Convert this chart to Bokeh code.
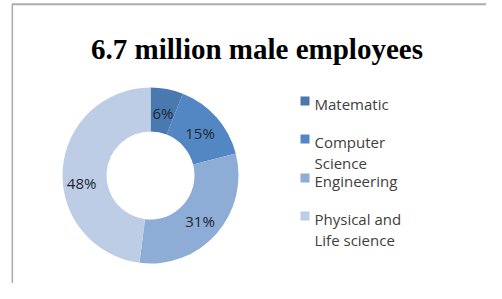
import math
from bokeh.plotting import figure
from bokeh.models import Range1d, ColumnDataSource
from bokeh.core.properties import value
from bokeh.embed import file_html
from bokeh.resources import INLINE

# ---- data ----
title_text = "6.7 million male employees"
categories = ["Matematic", "Computer Science", "Engineering", "Physical and Life science"]
legend_lines = [["Matematic"], ["Computer", "Science"], ["Engineering"], ["Physical and", "Life science"]]
shares = [6, 15, 31, 48]
colors = ["#4A79AF", "#5287C3", "#8DACD6", "#BDCDE5"]

W, H = 486, 283
p = figure(width=W, height=H, output_backend="svg", toolbar_location=None,
           x_range=Range1d(0, W), y_range=Range1d(0, H), min_border=0,
           background_fill_color="white", border_fill_color="white")
p.axis.visible = False
p.grid.visible = False
p.outline_line_color = None

def px(x):
    return x

def py(y):
    return H - y

# frame lines (top and left)
p.line([px(11.5), W], [py(3.8), py(3.8)], line_color="#ABABAB", line_width=2)
p.line([px(11.8), px(11.8)], [py(3.8), 0], line_color="#ABABAB", line_width=1.5)

# title
p.text([px(256.5)], [py(48)], text=[title_text], text_font=value("Liberation Serif"),
       text_font_style="bold", text_font_size="29px", text_color="#000000",
       text_align="center", text_baseline="middle")

# donut
cx, cy = px(150), py(175)
r_out, r_in = 88, 44
total = float(sum(shares))
starts, ends, cum = [], [], 0.0
for s in shares:
    starts.append(math.pi / 2 - 2 * math.pi * cum / total)
    cum += s
    ends.append(math.pi / 2 - 2 * math.pi * cum / total)
src = ColumnDataSource(dict(x=[cx] * 4, y=[cy] * 4, start=starts, end=ends, color=colors))
p.annular_wedge(x="x", y="y", inner_radius=r_in, outer_radius=r_out, inner_radius_units="screen",
                outer_radius_units="screen", start_angle="start", end_angle="end",
                direction="clock", fill_color="color", line_color=None, source=src)

# labels
label_offsets = [(0, -2), (0, -1), (0, -2), (-3, -12)]
lx, ly, lt = [], [], []
r_mid = (r_out + r_in) / 2
for s, a0, a1, (dx, dy) in zip(shares, starts, ends, label_offsets):
    am = (a0 + a1) / 2
    lx.append(cx + r_mid * math.cos(am) + dx)
    ly.append(cy + r_mid * math.sin(am) + dy)
    lt.append(f"{s}%")
p.text(lx, ly, text=lt, text_font=value("Open Sans"), text_font_size="15px",
       text_color="#1E2733", text_align="center", text_baseline="middle")

# legend
item_y = [103, 141, 180, 218]
line_gap = 21
sq_x, sq_y, tx, ty, tt = [], [], [], [], []
for lines, yy, c in zip(legend_lines, item_y, colors):
    sq_x.append(px(304.5))
    sq_y.append(py(yy - 2.5))
    for k, t in enumerate(lines):
        tx.append(px(314))
        ty.append(py(yy + k * line_gap))
        tt.append(t)
p.rect(sq_x, sq_y, width=9, height=9, width_units="screen", height_units="screen",
       fill_color=colors, line_color=None)
p.text(tx, ty, text=tt, text_font=value("Open Sans"), text_font_size="15px",
       text_color="#404040", text_align="left", text_baseline="middle")

open("out.html", "w").write(file_html(p, INLINE))
